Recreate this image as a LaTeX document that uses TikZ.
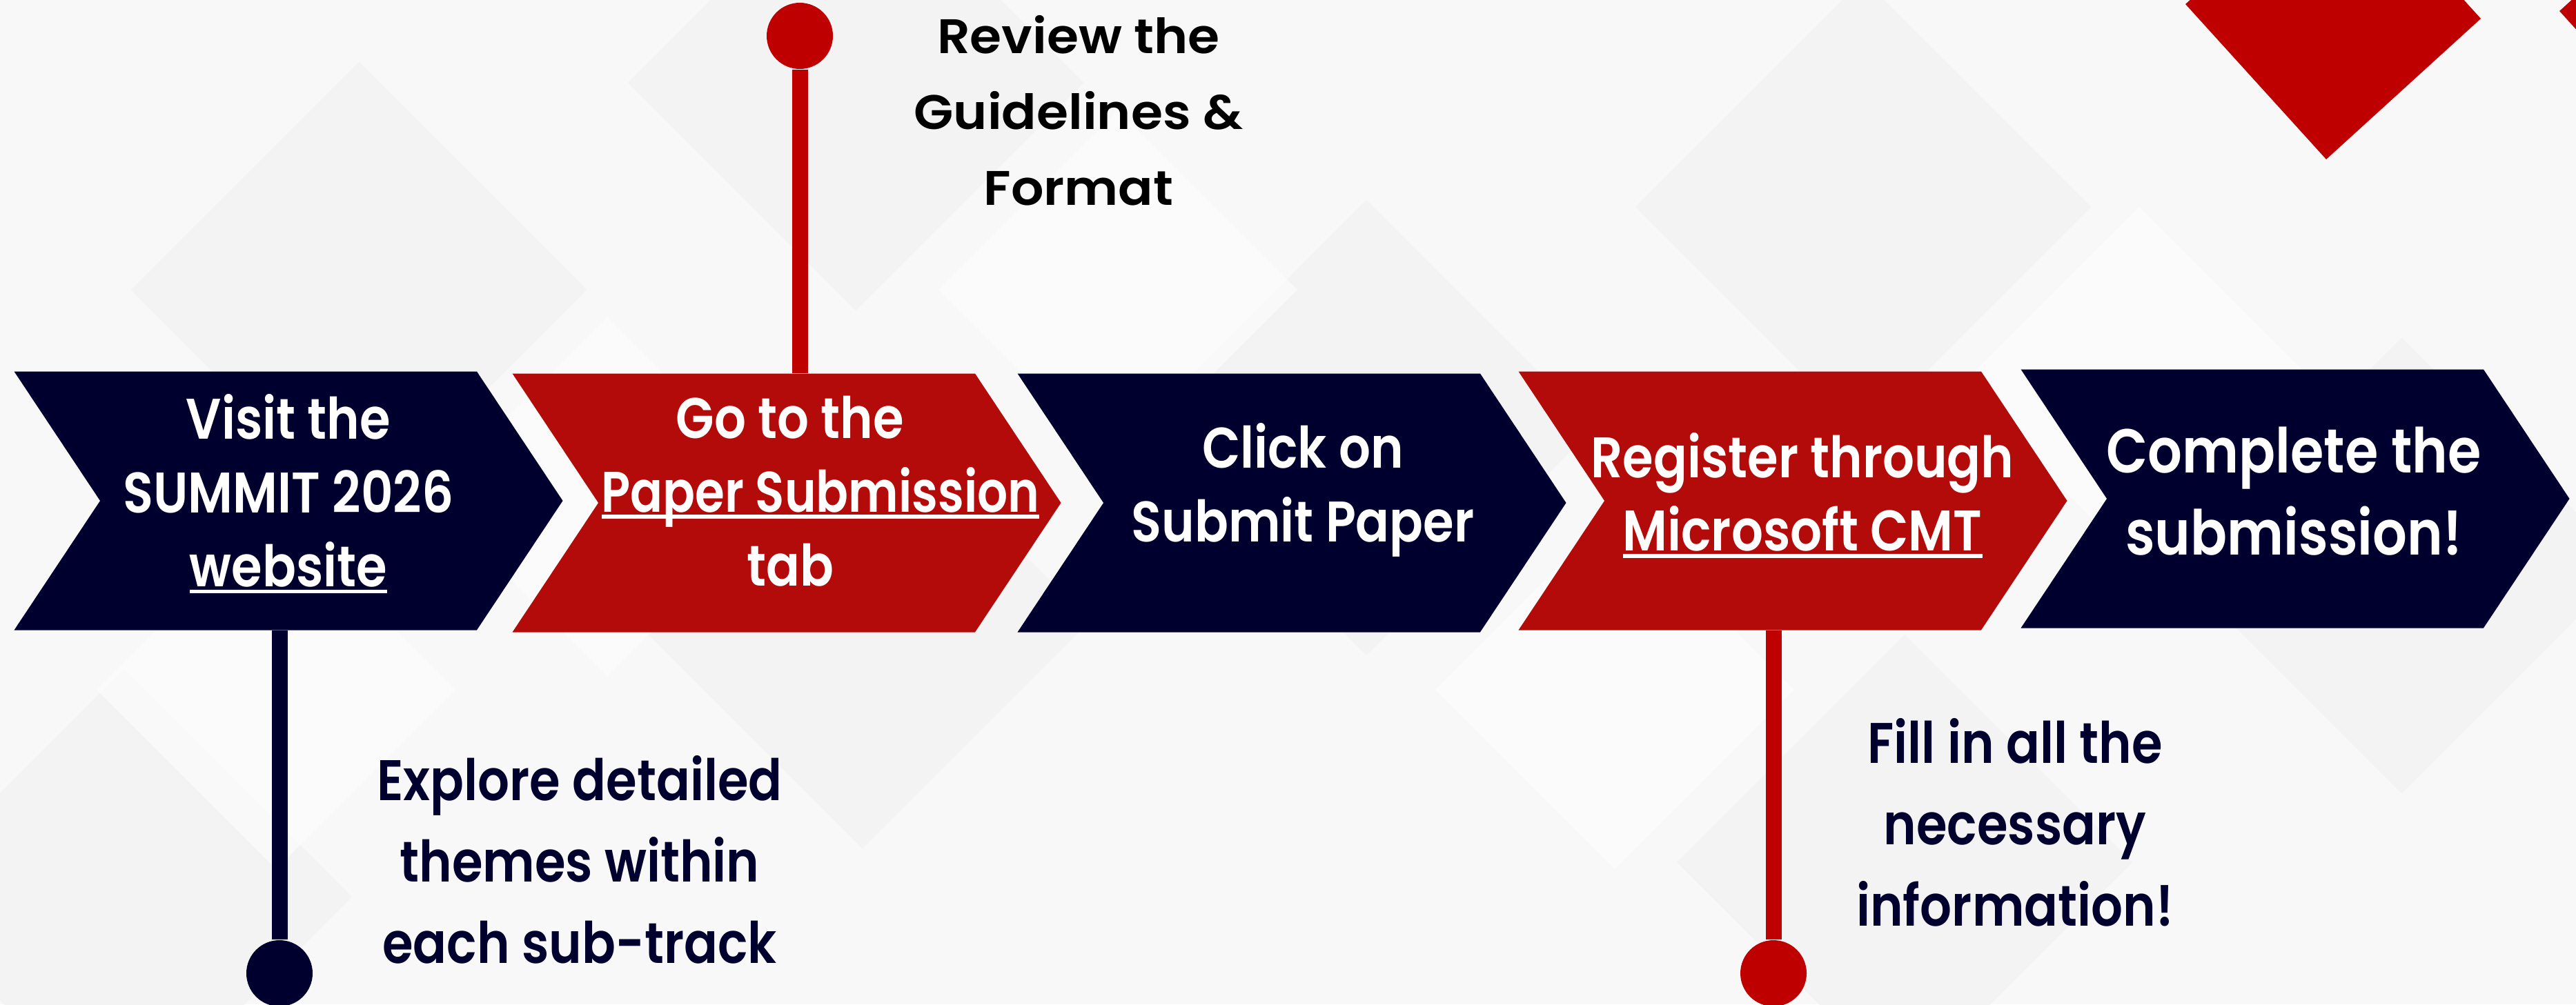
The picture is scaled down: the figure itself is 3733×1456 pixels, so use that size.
\documentclass[tikz,border=0pt]{standalone}
\usepackage{fontspec}
\setmainfont{Poppins SemiBold}[FakeStretch=0.87]
\newfontfamily\largefont{Poppins SemiBold}[FakeStretch=1.06]
\usetikzlibrary{shapes.symbols}
\definecolor{marine}{HTML}{00002E}
\definecolor{rouge}{HTML}{B30A0A}
\definecolor{rougevif}{HTML}{BE0000}
\definecolor{fond}{HTML}{F8F8F8}
\definecolor{ombre}{HTML}{F3F3F3}
\newcommand{\lien}[1]{\setbox0=\hbox{#1}\rlap{\rule[-0.12em]{\wd0}{0.07em}}\box0}

\begin{document}
\begin{tikzpicture}[x=0.1mm,y=-0.1mm]
\tikzstyle{etape}=[signal,signal to=east,signal from=west,signal pointer angle=112.8,
minimum width=79.5mm,minimum height=37.5mm,inner sep=0pt]
\tikzstyle{texteblanc}=[text=white,align=center,inner sep=0pt,
font=\fontsize{23.6pt}{30.4pt}\selectfont]
\tikzstyle{note}=[align=center,inner sep=0pt,font=\fontsize{23.6pt}{33.6pt}\selectfont]
\tikzstyle{point}=[circle,minimum size=9.6mm,inner sep=0pt]
\tikzstyle{tige}=[line width=2.3mm]

\useasboundingbox (0,0) rectangle (3733,1456);
\clip (0,0) rectangle (3733,1456);
\fill[fond] (0,0) rectangle (3733,1456);

% fond en losanges
\foreach \cx/\cy in {520/420,1240/120,1250/900,1980/620,2700/300,2760/1250,3480/820,180/1300}
  \fill[ombre] (\cx-330,\cy) -- (\cx,\cy-330) -- (\cx+330,\cy) -- (\cx,\cy+330) -- cycle;
\foreach \cx/\cy in {880/720,1620/420,2340/1000,3100/560,400/1000}
  \fill[white,opacity=0.5] (\cx-260,\cy) -- (\cx,\cy-260) -- (\cx+260,\cy) -- (\cx,\cy+260) -- cycle;

% losanges rouges en haut
\fill[rougevif] (3167,6) -- (3371,231) -- (3595,27) -- (3391,-198) -- cycle;
\fill[rougevif] (3709,16) -- (3913,241) -- (4137,37) -- (3933,-188) -- cycle;

% les etapes
\node[etape,fill=marine] (chev1) at (418,726) {};
\node[etape,fill=rouge] (chev2) at (1140,729) {};
\node[etape,fill=marine] (chev3) at (1872,729) {};
\node[etape,fill=rouge] (chev4) at (2598,726) {};
\node[etape,fill=marine] (chev5) at (3326,723) {};

\node[texteblanc] (visite) at (418,716) {Visit the\\SUMMIT 2026\\\lien{website}};
\node[texteblanc] (onglet) at (1145,712) {Go to the\\\hspace*{8.8mm}\lien{\scalebox{0.96}[1]{Paper Submission}}\\tab};
\node[texteblanc] (cliquer) at (1888,710) {Click on\\Submit Paper};
\node[texteblanc] (inscrire) at (2612,718) {Register through\\\lien{Microsoft CMT}};
\node[texteblanc,font=\fontsize{25.6pt}{33.9pt}\selectfont] (terminer) at (3324,712) {Complete the\\submission!};

% les notes
\node[note,font=\largefont\fontsize{20pt}{31.3pt}\selectfont] (consignes) at (1563,160) {Review the\\Guidelines \&\\Format};
\node[note,text=marine] (explorer) at (840,1246) {Explore detailed\\themes within\\each sub-track};
\node[note,text=marine] (remplir) at (2920,1192) {Fill in all the\\necessary\\information!};

\node[point,fill=marine] (pointA) at (405,1411) {};
\node[point,fill=rougevif] (pointB) at (1159,52) {};
\node[point,fill=rougevif] (pointC) at (2570,1411) {};

\draw[tige,marine] (pointA) -- (pointA |- chev1.south);
\draw[tige,rougevif] (pointB) -- (pointB |- chev2.north);
\draw[tige,rougevif] (pointC) -- (pointC |- chev4.south);

\end{tikzpicture}
\end{document}
